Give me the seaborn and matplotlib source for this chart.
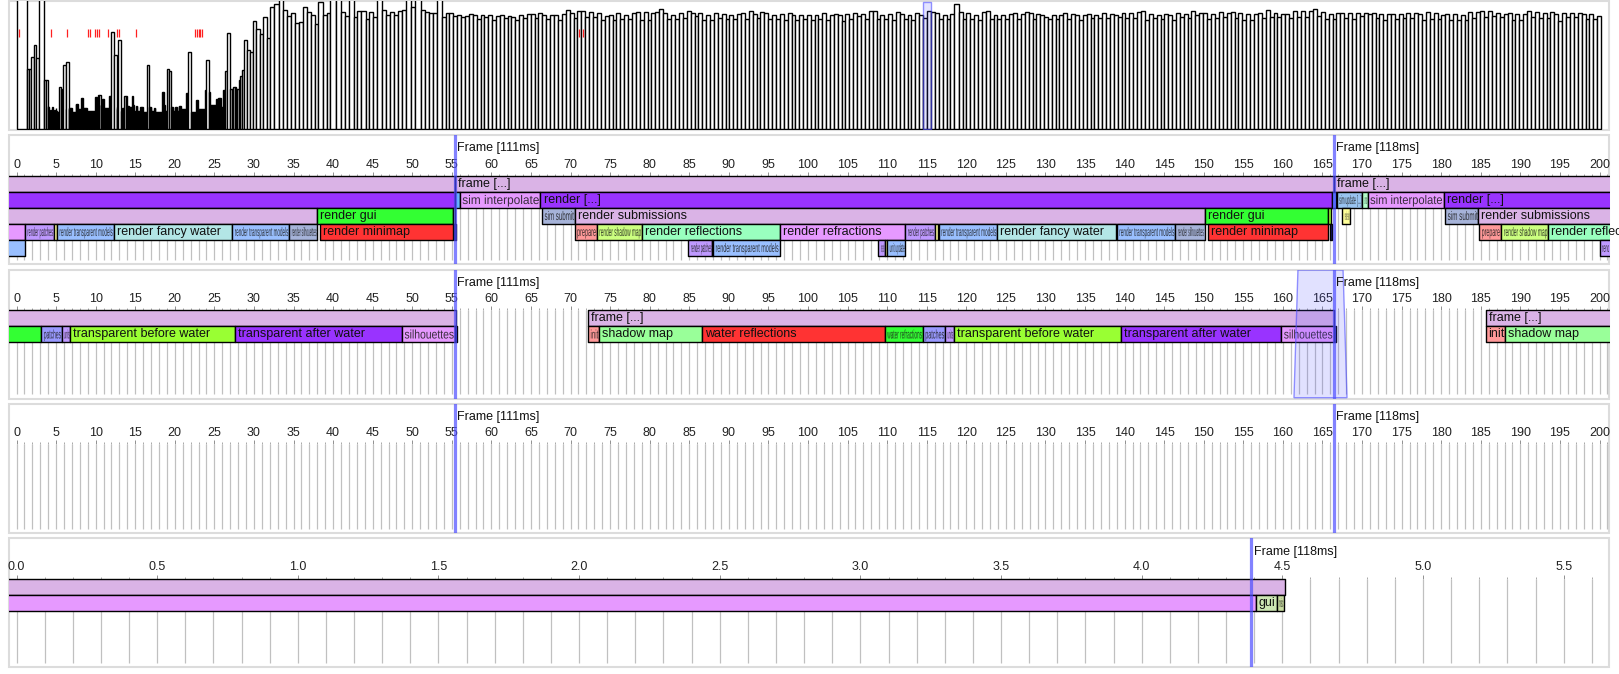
import numpy as np
import pandas as pd
import matplotlib
matplotlib.use("Agg")
import matplotlib.pyplot as plt
from matplotlib.textpath import TextPath
from matplotlib.transforms import Affine2D
import seaborn as sns

# overview strip: frame times in ms, one entry per frame, left to right
early_frames = [
    305, 60, 60, 72, 84, 71, 155, 49, 49,
    23, 22, 18, 18, 19, 18, 20, 22, 19, 18, 18, 19, 21, 18, 17, 17, 17, 16,
    42, 40, 22, 22, 64, 20, 67, 20,
    21, 21, 21, 17, 17, 17, 17, 17, 17, 17, 25, 25, 25, 20, 20, 20, 20, 31, 31,
    21, 21, 21, 21, 21, 18, 18, 18, 18, 18, 18, 18, 18, 18, 18, 18, 18, 18, 18,
    32, 32, 22, 34, 34, 24, 24, 30, 30, 21, 21, 21, 21, 21, 21, 33, 33,
    97, 74, 22, 20, 89,
    18, 18, 21, 21, 18, 33, 33, 23, 23, 23, 22, 22, 22, 22, 33, 24, 18, 18, 18,
    23, 23, 18, 18, 18, 18, 22, 22, 22, 22, 17, 17, 17, 17, 17, 17, 17,
    64,
    22, 22, 22, 18, 18, 18, 18, 21, 21, 17, 17, 17, 17, 17, 17, 17, 17, 17, 17, 17,
    37, 37, 24, 18, 18, 18, 60, 58,
    22, 22, 22, 18, 18, 18, 22, 22, 22, 18, 18, 23, 23, 23, 20, 20, 20, 20, 20, 20, 20,
    36, 36, 77,
    17, 17, 17, 17, 17, 17, 17, 17, 17, 29, 29, 20, 20, 20, 20, 20, 20, 20, 20, 20, 20,
    39, 69, 37,
    24, 24, 24, 24, 24, 24, 24, 30, 30, 31, 31, 31, 22, 22, 39, 39,
    58, 96, 40, 40, 42, 42, 40, 40, 49, 53, 59, 89, 79, 77, 108,
    100, 95, 112, 91, 122, 125, 140, 119, 113, 116, 106, 107, 122, 117, 114, 105,
    127, 114, 116, 148, 148, 117, 113, 148, 112, 118, 118, 110, 117, 112, 148, 119,
    114, 117, 114, 118, 119, 148, 122, 148, 119, 117, 116, 116, 148, 112, 116, 116,
    113, 114,
    112, 113, 115, 114, 110, 114, 112, 114, 109, 113, 114, 111, 113, 112, 109, 114,
    111, 115, 115, 111, 116,
    114, 110, 114, 114, 109, 115, 119, 116, 111, 118,
    118, 112, 117, 112, 116, 109, 113, 114, 109, 116,
    110, 114, 110, 116, 117, 109, 117, 109, 116, 117,
    120, 116, 110, 114, 110, 116, 111, 118, 116, 113,
    116, 109, 114, 109, 116, 111, 115, 110, 114, 110,
    115, 116, 110, 118, 115, 111, 117, 116, 110, 114,
    110, 115, 109, 116, 114, 109, 114, 110, 114, 109,
    114, 110, 116, 109, 114, 115, 114, 108, 115, 110,
    116, 113, 115, 110, 118, 118, 110, 114, 110, 115,
    109, 117, 115, 110, 114, 109, 116, 114,
]
selected_frames = [111, 118]
late_frames = [
    117, 116, 110, 114, 110, 115, 125, 117, 110, 116, 110, 114, 109, 117, 118, 110,
    114, 110, 114, 110, 115, 116, 110, 115, 117, 116, 110, 115, 114, 112, 110, 114,
    110, 114, 116, 110, 115,
    114, 109, 114, 115, 111, 114, 111, 116, 111, 115, 114, 112, 116, 111, 116, 111,
    117, 118, 109, 115, 111, 114, 110, 115, 114, 109, 116, 112, 115, 111, 118, 114,
    116, 116, 110, 115, 111, 117, 112, 116, 117, 111, 116, 109, 115, 109, 115, 116,
    111, 119, 112, 116, 112, 115, 115, 111, 118, 112, 118, 112, 118, 120, 113, 117,
    110, 115, 110, 116, 116, 111, 116, 110, 116, 113, 116, 115, 116, 111, 115, 109,
    115, 115, 110, 115, 111, 116, 111, 116, 115, 109, 117, 110, 116, 110, 114, 115,
    109, 115, 109, 114, 109, 117, 111, 117, 118, 112, 118, 113, 116, 112, 115, 116,
    109, 115, 109, 115, 118, 112, 117, 111, 116, 111, 117, 115, 108, 116, 112, 116,
    112, 116, 115, 110, 115, 110, 113,
]

# red markers on the overview, ms since the start of the capture
marker_ms = [87, 1017, 1483, 2078, 2157, 2282, 2340, 2407, 2660, 2942, 3000, 3474,
             5198, 5267, 5330, 5363, 5401, 16410, 16526]

# frame boundaries in the timeline panels
frame_lines = [55.4, 166.4]
frame_names = ["Frame [111ms]", "Frame [118ms]"]
zoom_line = [4.39]
zoom_name = ["Frame [118ms]"]

# first timeline panel, one list per lane (start, end, label)
main_lane0 = [(-56, 55.4, "frame [...]"), (55.4, 166.4, "frame [...]"), (166.4, 285, "frame [...]")]
main_lane1 = [(-20, 55.4, "render [...]"), (55.4, 56.0, "net sync"), (56.0, 66.2, "sim interpolate"),
              (66.2, 166.2, "render [...]"), (166.2, 166.7, "net sync"), (166.8, 170.0, "sim update [...]"),
              (170.0, 170.7, "sim misc"), (170.7, 180.3, "sim interpolate"), (180.3, 285, "render [...]")]
main_lane2 = [(-10, 38.0, "render submissions"), (38.0, 55.1, "render gui"), (55.1, 55.4, "render cursor"),
              (66.4, 70.5, "sim submit"), (70.5, 150.1, "render submissions"), (150.1, 165.7, "render gui"),
              (165.7, 166.1, "render cursor"), (167.5, 168.5, "render sky"),
              (180.5, 184.7, "sim submit"), (184.7, 285, "render submissions")]
main_lane3 = [(-5, 1.05, "render refractions"), (1.05, 4.7, "render patches"), (4.7, 5.1, "render sky"),
              (5.1, 12.27, "render transparent models"), (12.27, 27.25, "render fancy water"),
              (27.25, 34.45, "render transparent models"), (34.45, 38.0, "render silhouettes"),
              (38.4, 55.1, "render minimap"), (55.3, 55.5, "present"),
              (70.5, 73.3, "prepare"), (73.3, 79.0, "render shadow map"), (79.0, 96.4, "render reflections"),
              (96.4, 112.3, "render refractions"), (112.3, 116.0, "render patches"), (116.0, 116.4, "render sky"),
              (116.5, 123.9, "render transparent models"), (123.9, 138.9, "render fancy water"),
              (139.0, 146.4, "render transparent models"), (146.4, 150.1, "render silhouettes"),
              (150.5, 165.7, "render minimap"), (165.9, 166.2, "present"),
              (184.8, 187.5, "prepare"), (187.6, 193.5, "render shadow map"), (193.5, 285, "render reflections")]
main_lane4 = [(-4, 1.05, "unit update"), (84.9, 87.9, "render patches"), (87.9, 88.0, "render sky"),
              (88.0, 96.4, "render transparent models"), (108.9, 109.7, "render patches"),
              (109.7, 110.0, "render sky"), (110.0, 112.3, "unit update"), (200.0, 203.7, "render patches")]

# second timeline panel
mid_lane0 = [(-20, 55.5, "frame [...]"), (72.2, 166.4, "frame [...]"), (185.6, 285, "frame [...]")]
mid_lane1 = [(-5, 3.14, "water refractions"), (3.14, 5.7, "patches"), (5.7, 6.8, "units"),
             (6.8, 27.6, "transparent before water"), (27.6, 48.7, "transparent after water"),
             (48.7, 55.4, "silhouettes"), (55.4, 55.6, "present"),
             (72.2, 73.6, "init"), (73.6, 86.6, "shadow map"), (86.6, 109.7, "water reflections"),
             (109.7, 114.5, "water refractions"), (114.5, 117.3, "patches"), (117.3, 118.4, "units"),
             (118.4, 139.5, "transparent before water"), (139.5, 159.8, "transparent after water"),
             (159.8, 166.4, "silhouettes"), (166.4, 166.7, "present"),
             (185.6, 188.1, "init"), (188.1, 285, "shadow map")]
# selection wedge on the second panel, ms at top and bottom edge
wedge_top = [161.9, 167.6]
wedge_bottom = [161.4, 168.1]

# bottom panel
zoom_lane0 = [(-1, 4.508, "frame [...]")]
zoom_lane1 = [(-1, 4.405, "silhouettes"), (4.405, 4.48, "gui"), (4.48, 4.505, "misc")]

span_colors = {
    "frame [...]": "#dab3e6", "render [...]": "#9933ff", "net sync": "#66b3ff",
    "sim interpolate": "#e699ff", "sim update [...]": "#99c4f0", "sim misc": "#b3ffcc",
    "render submissions": "#dab3e6", "render gui": "#33ff33", "render cursor": "#99ff33",
    "sim submit": "#a6b3d9", "render sky": "#ffff99", "render refractions": "#e699ff",
    "render patches": "#bf99ff", "render transparent models": "#99bfff",
    "render fancy water": "#b3e6e6", "render silhouettes": "#a6b3d9",
    "render minimap": "#ff3333", "present": "#1a1a80", "prepare": "#ff9999",
    "render shadow map": "#ccff80", "render reflections": "#99ffbf", "unit update": "#99bfff",
    "water refractions": "#33ff33", "patches": "#9999ff", "units": "#bf99ff",
    "transparent before water": "#99ff33", "transparent after water": "#9933ff",
    "silhouettes": "#e699ff", "init": "#ff9999", "shadow map": "#99ff99",
    "water reflections": "#ff3333", "gui": "#cce6b3", "misc": "#c8dba0",
}

sns.set_theme(style="white")
plt.rcParams["font.family"] = ["Liberation Sans", "DejaVu Sans"]
plt.rcParams["font.size"] = 9

W, H = 1619, 674
fig = plt.figure(figsize=(W / 100, H / 100), dpi=100)
renderer = fig.canvas.get_renderer()
LEFT, RIGHT = 8.6, 1609
ZERO_PX = 16.5
LANE_H = 16
LINE_BLUE = (0.3, 0.3, 1, 0.7)


def panel(top, bottom):
    ax = fig.add_axes([LEFT / W, 1 - bottom / H, (RIGHT - LEFT) / W, (bottom - top) / H])
    for s in ax.spines.values():
        s.set_visible(False)
    ax.patch.set_edgecolor("#dcdcdc")
    ax.patch.set_linewidth(1.5)
    return ax


def squeeze(t, ax, factor, x_px, y_px):
    # the profiler squashes long labels sideways to fit, agg text can't do that on its own
    size = 9 * fig.dpi / 72

    def draw(rend):
        path = TextPath((0, 0), t.get_text(), size=size, prop=t.get_fontproperties())
        tr = Affine2D().scale(factor, 1).translate(x_px, y_px - size * 0.36)
        gc = rend.new_gc()
        gc.set_clip_rectangle(ax.bbox)
        gc.set_linewidth(0)
        rend.draw_path(gc, path, tr, rgbFace=(0.1, 0.1, 0.1, 0.85))
        gc.restore()
    t.draw = draw


def draw_lane(ax, spans, y, x_left, px_per_ms):
    for start, end, label in spans:
        ax.broken_barh([(start, end - start)], (y, LANE_H), facecolors=span_colors[label],
                       edgecolor="black", linewidth=1.0, zorder=3)
        width_px = (end - start) * px_per_ms
        # spans that began off screen carry no label, slivers neither
        if start < x_left or width_px < 5:
            continue
        t = ax.annotate(label, (start, y + LANE_H / 2), xytext=(2.2, -0.3), textcoords="offset points",
                        va="center", ha="left", fontsize=9, color="#111111", zorder=4,
                        annotation_clip=False)
        t.set_clip_on(True)
        w = t.get_window_extent(renderer).width
        if w > width_px - 3:
            factor = (width_px - 3) / w
            # layout size shrinks with the squash so the text box stays inside its span
            t.set_fontsize(9 * factor)
            x_px, y_px = ax.transData.transform((start, y + LANE_H / 2))
            squeeze(t, ax, factor, x_px + 2.5, y_px)


def timeline(top, bottom, xlim, major, minor, fmt, lines, names, lanes):
    ax = panel(top, bottom)
    ax.set_xlim(*xlim)
    ax.set_ylim(bottom, top)
    row_top = top + 40.5
    px_per_ms = (RIGHT - LEFT) / (xlim[1] - xlim[0])
    ax.vlines(minor, row_top, bottom - 4.5, color="#c0c0c0", linewidth=0.9, zorder=1)
    for i, spans in enumerate(lanes):
        draw_lane(ax, spans, row_top + i * LANE_H, xlim[0], px_per_ms)
    # tick axis sits on top of the lanes
    ax.spines["top"].set_position(("data", row_top))
    ax.set_xticks(major)
    ax.set_xticklabels([fmt % v for v in major])
    ax.set_xticks(minor, minor=True)
    ax.tick_params(axis="x", which="major", top=True, bottom=False, labeltop=True, labelbottom=False,
                   length=3.0, width=0.7, color="#909090", pad=0.6, labelsize=9, labelcolor="#222222")
    ax.tick_params(axis="x", which="minor", top=True, bottom=False, length=1.5, width=0.7, color="#a8a8a8")
    ax.set_yticks([])
    for x, name in zip(lines, names):
        ax.axvline(x, color=LINE_BLUE, linewidth=2.3, zorder=6)
        ax.annotate(name, (x, top + 13.5), xytext=(1.6, 0), textcoords="offset points", va="center",
                    ha="left", fontsize=9, color="#111111", zorder=7, annotation_clip=False)
    return ax


# overview bars, width and height both follow the frame time
frame_ms = early_frames + selected_frames + late_frames
durations = np.array(frame_ms, dtype=float)
edges = np.concatenate([[0], np.cumsum(durations)])
total = edges[-1]
k = (1601 - ZERO_PX) / total
frames = pd.DataFrame({"mid": (edges[:-1] + edges[1:]) / 2, "ms": durations})

ax0 = panel(0.6, 130)
sns.histplot(data=frames, x="mid", weights="ms", bins=list(edges), stat="count", color="white",
             edgecolor="black", linewidth=1.0, alpha=1, ax=ax0)
ax0.set(xlabel="", ylabel="", xticks=[], yticks=[])
ax0.set_xlim(-(ZERO_PX - LEFT) / k, total + (RIGHT - 1601) / k)
ax0.set_ylim(-1.5, 127.9)
ax0.vlines(marker_ms, 91.8, 99.5, color="#ff2020", linewidth=0.9, zorder=4)
sel = len(early_frames)
ax0.bar(edges[sel], 127, width=edges[sel + 2] - edges[sel], align="edge",
        color=(0.3, 0.3, 1, 0.15), edgecolor=(0.3, 0.3, 1, 0.6), linewidth=1, zorder=5)

ms_major = np.arange(0, 201, 5)
ms_minor = np.arange(0, 202, 1)
ms_xlim = ((LEFT - ZERO_PX) / 7.915, (RIGHT - ZERO_PX) / 7.915)

timeline(135, 264, ms_xlim, ms_major, ms_minor, "%d", frame_lines, frame_names,
         [main_lane0, main_lane1, main_lane2, main_lane3, main_lane4])
ax_mid = timeline(269.5, 398.5, ms_xlim, ms_major, ms_minor, "%d", frame_lines, frame_names,
                  [mid_lane0, mid_lane1])
ax_mid.fill([wedge_top[0], wedge_top[1], wedge_bottom[1], wedge_bottom[0]],
            [270, 270, 397.7, 397.7], facecolor=(0.3, 0.3, 1, 0.17), edgecolor=(0.3, 0.3, 1, 0.6),
            linewidth=1, zorder=5)
timeline(403.5, 533, ms_xlim, ms_major, ms_minor, "%d", frame_lines, frame_names, [])

zoom_xlim = ((LEFT - ZERO_PX) / 281.3, (RIGHT - ZERO_PX) / 281.3)
timeline(538, 667, zoom_xlim, np.arange(0, 5.6, 0.5), np.arange(0, 5.7, 0.1), "%.1f", zoom_line, zoom_name,
         [zoom_lane0, zoom_lane1])

fig.savefig("out.png", dpi=100)
